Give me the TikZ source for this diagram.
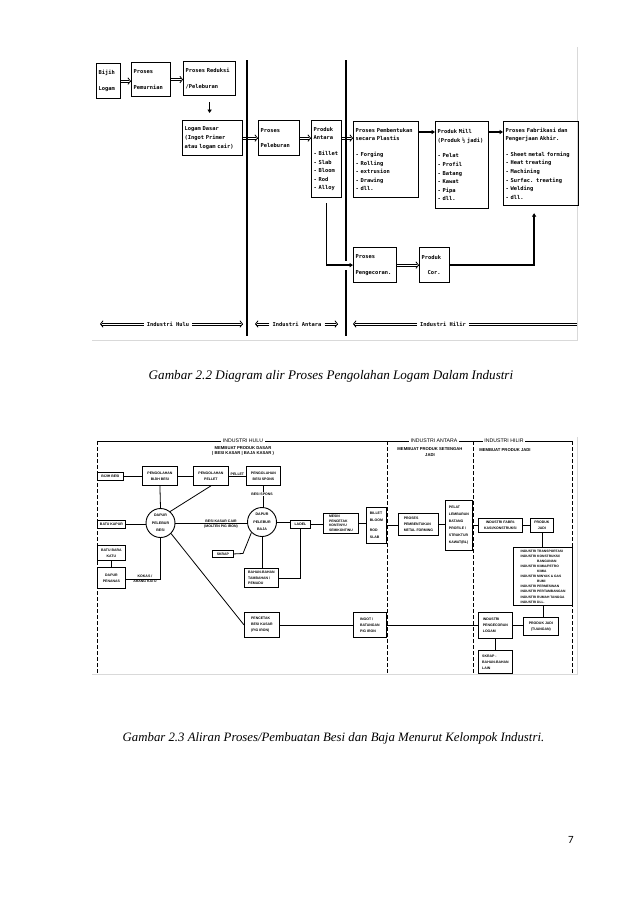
\documentclass[tikz,border=0pt]{standalone}
\usepackage{fontspec}
\setmainfont{Liberation Serif}
\newfontfamily\scanmono{DejaVu Sans Mono}
\newfontfamily\scansans{Liberation Sans}
\newfontfamily\pagefont{Carlito}
\usetikzlibrary{arrows.meta,calc}
% double-line connector with tip at #2
\newcommand\dblarrow[2]{%
  \draw[dbl, transform canvas={yshift=1.1pt}, shorten >=1.6pt] (#1) -- (#2);
  \draw[dbl, transform canvas={yshift=-1.1pt}, shorten >=1.6pt] (#1) -- (#2);
  \draw[dbl, -{Straight Barb[length=2.6pt,width=6.6pt]}] ($(#2)!1.2pt!(#1)$) -- (#2);}
% double line without tip
\newcommand\dblline[2]{%
  \draw[dbl, transform canvas={yshift=1.1pt}] (#1) -- (#2);
  \draw[dbl, transform canvas={yshift=-1.1pt}] (#1) -- (#2);}
\begin{document}
\begin{tikzpicture}[x=1pt,y=-1pt,
 tb/.style={draw, line width=1.2pt, anchor=north west, align=left, inner xsep=2pt, inner ysep=1pt, font=\scanmono\bfseries\fontsize{5.4}{8.6}\selectfont},
 vsep/.style={line width=1.4pt},
 dbl/.style={line width=0.8pt},
 sarr/.style={line width=1.5pt, -{Triangle[length=3.5pt,width=4.2pt]}},
 lab/.style={font=\scanmono\bfseries\fontsize{5.4}{6}\selectfont, inner xsep=3pt, inner ysep=1.5pt},
 bb/.style={draw, line width=0.85pt, anchor=north west, align=center, inner sep=0.6pt, font=\scansans\bfseries\fontsize{3.5}{6}\selectfont},
 bc/.style={draw, circle, line width=0.9pt, inner sep=0pt, minimum size=29pt, align=center, font=\scansans\bfseries\fontsize{3.6}{7.5}\selectfont},
 ln/.style={line width=0.8pt},
 dsh/.style={line width=0.8pt, dash pattern=on 4pt off 2pt},
 bl/.style={font=\scansans\bfseries\fontsize{3.5}{5}\selectfont, inner sep=0.5pt, align=center},
 hd/.style={font=\scansans\fontsize{5.2}{6}\selectfont, inner sep=1.5pt, fill=white},
 sub/.style={font=\scansans\bfseries\fontsize{4.2}{5.5}\selectfont, inner sep=0.5pt, align=center},
 frame/.style={draw=black!15, line width=0.8pt},
 capt/.style={font=\itshape\fontsize{13.1}{15}\selectfont, inner sep=0pt}
]
\useasboundingbox (0,0) rectangle (638,903);

% ================= Figure 2.2 =================
\draw[frame] (92,340) -- (577,340) -- (577,47);

\node[tb, text width=20pt, minimum height=35pt] (bijih) at (96,63) {Bijih\\[7pt]Logam};
\node[tb, text width=35pt, minimum height=34pt] (pemurnian) at (131,62) {Proses\\[7pt]Pemurnian};
\node[tb, text width=48pt, minimum height=34pt] (reduksi) at (183,61) {Proses Reduksi\\[7pt]/Peleburan};
\node[tb, text width=56pt, minimum height=35pt] (logam) at (182,120) {Logam Dasar\\(Ingot Primer\\atau logam cair)};
\node[tb, text width=37pt, minimum height=35pt] (peleburan) at (258,120) {Proses\\[7pt]Peleburan};
\node[tb, text width=26pt, minimum height=77pt] (antara) at (311,120) {Produk\\Antara\\[7pt]- Billet\\- Slab\\- Bloom\\- Rod\\- Alloy};
\node[tb, text width=61pt, minimum height=76pt] (plastis) at (353,121) {Proses Pembentukan\\secara Plastis\\[7pt]- Forging\\- Rolling\\- extrusion\\- Drawing\\- dll.};
\node[tb, text width=49pt, minimum height=87pt] (mill) at (435,121) {Produk Mill\\(Produk ½ jadi)\\[7pt]- Pelat\\- Profil\\- Batang\\- Kawat\\- Pipa\\- dll.};
\node[tb, text width=71pt, minimum height=84pt] (fab) at (503,121) {Proses Fabrikasi dan\\Pengerjaan Akhir.\\[7pt]- Sheet metal forming\\- Heat treating\\- Machining\\- Surfac. treating\\- Welding\\- dll.};
\node[tb, text width=39pt, minimum height=35pt] (pengecoran) at (353,247) {Proses\\[7pt]Pengecoran.};
\node[tb, text width=26pt, minimum height=35pt] (cor) at (419,247) {Produk\\[7pt]\hspace*{6pt}Cor.};

% separators
\draw[vsep] (247,60) -- (247,336);
\draw[vsep] (346,60) -- (346,261);
\draw[vsep] (346,270) -- (346,336);

% arrows
\coordinate (b1) at (bijih.east -| pemurnian.west);
\dblarrow{bijih.east}{b1}
\coordinate (b2) at (pemurnian.east -| reduksi.west);
\dblarrow{pemurnian.east}{b2}
\draw[sarr, shorten <=6pt, shorten >=7pt] (reduksi.south) -- (reduksi.south |- logam.north);
\coordinate (b3) at (logam.east -| peleburan.west);
\dblarrow{logam.east}{b3}
\coordinate (b4) at (peleburan.east -| antara.west);
\dblarrow{peleburan.east}{b4}
\coordinate (b5s) at (peleburan.east -| antara.east);
\coordinate (b5) at (peleburan.east -| plastis.west);
\dblarrow{b5s}{b5}
\coordinate (p1) at ([yshift=-11pt]plastis.north east);
\coordinate (p2) at ([yshift=-11pt]mill.north east);
\draw[sarr] (p1) -- (p1 -| mill.west);
\draw[sarr] (p2) -- (p2 -| fab.west);
\draw[sarr, shorten <=5pt] (antara.south) |- (pengecoran.west);
\coordinate (b6) at (pengecoran.east -| cor.west);
\dblarrow{pengecoran.east}{b6}
\coordinate (fabin) at ([xshift=-7pt]fab.south);
\draw[sarr, shorten >=7pt] (cor.east) -| (fabin);

% bottom labels
\node[lab] (lhulu) at (168,324) {Industri Hulu};
\node[lab] (lantara) at (297,324) {Industri Antara};
\node[lab] (lhilir) at (443,324) {Industri Hilir};
\coordinate (h1) at (100,324); \coordinate (h2) at (243,324);
\coordinate (a1) at (255,324); \coordinate (a2) at (338,324);
\coordinate (i1) at (353,324); \coordinate (i2) at (577,324);
\dblarrow{lhulu.west}{h1}
\dblarrow{lhulu.east}{h2}
\dblarrow{lantara.west}{a1}
\dblarrow{lantara.east}{a2}
\dblarrow{lhilir.west}{i1}
\dblline{lhilir.east}{i2}

\node[capt] (cap1) at (331,376) {Gambar 2.2 Diagram alir Proses Pengolahan Logam Dalam Industri};

% ================= Figure 2.3 =================
\draw[frame] (92,674) -- (577,674) -- (577,437);

% header
\node[hd] (hhulu) at (243,441) {INDUSTRI HULU};
\node[hd] (hantara) at (434,441) {INDUSTRI ANTARA};
\node[hd] (hhilir) at (504,441) {INDUSTRI HILIR};
\node[sub] (shulu) at (243,451) {MEMBUAT PRODUK DASAR\\( BESI KASAR | BAJA KASAR )};
\node[sub] (santara) at (430,452) {MEMBUAT PRODUK SETENGAH\\JADI};
\node[sub] (shilir) at (505,450) {MEMBUAT PRODUK JADI};
\coordinate (tl) at (97,441); \coordinate (tr) at (572,441);
\draw[ln] (tl) -- (hhulu.west);
\draw[ln] (hhulu.east) -- (hantara.west);
\draw[ln] (hantara.east) -- (hhilir.west);
\draw[ln] (hhilir.east) -- (tr);
\draw[dsh] (97,441) -- (97,673);
\draw[dsh] (387,441) -- (387,673);
\draw[dsh] (473,441) -- (473,673);
\draw[dsh] (572,441) -- (572,673);

% nodes
\node[bb, minimum width=26pt, minimum height=8pt] (bbesi) at (97,472) {BIJIH BESI};
\node[bb, minimum width=35pt, minimum height=19pt] (pbb) at (142,466) {PENGOLAHAN\\BIJIH BESI};
\node[bb, minimum width=35pt, minimum height=19pt] (ppel) at (193,466) {PENGOLAHAN\\PELLET};
\node[bb, minimum width=34pt, minimum height=19pt] (pspo) at (246,466) {PENGOLAHAN\\BESI SPONS};
\node[bc] (cbesi) at (160.5,523) {DAPUR\\PELEBUR\\BESI};
\node[bc] (cbaja) at (262,522) {DAPUR\\PELEBUR\\BAJA};
\node[bb, minimum width=28pt, minimum height=8pt] (kapur) at (97,520) {BATU KAPUR};
\node[bb, minimum width=28pt, minimum height=15pt] (bara) at (97,545) {BATU BARA\\KATU};
\node[bb, minimum width=28pt, minimum height=21pt] (penanas) at (97,567) {DAPUR\\PENANAS};
\node[bb, minimum width=21pt, minimum height=7pt] (skrap) at (212,550) {SKRAP};
\node[bb, minimum width=34pt, minimum height=19pt, align=left, font=\scansans\bfseries\fontsize{3.5}{5.2}\selectfont] (bahan) at (244,568) {BAHAN-BAHAN\\TAMBAHAN /\\PEMADU};
\node[bb, minimum width=20pt, minimum height=8pt] (ladel) at (290,520) {LADEL};
\node[bb, minimum width=35pt, minimum height=20pt, align=left, font=\scansans\bfseries\fontsize{3.4}{4.6}\selectfont] (mesin) at (323,513) {MESIN\\PENCETAK\\KONTINYU\\SEMIKONTINU};
\node[bb, minimum width=20pt, minimum height=36pt, align=left, font=\scansans\bfseries\fontsize{3.5}{7.5}\selectfont] (billet) at (366,507) {BILLET\\BLOOM\\[2pt]ROD\\SLAB};
\node[bb, minimum width=40pt, minimum height=22pt, align=left] (proses) at (398,513) {PROSES\\PEMBENTUKAN\\METAL FORMING};
\node[bb, minimum width=27pt, minimum height=50pt, align=left, font=\scansans\bfseries\fontsize{3.5}{7}\selectfont] (pelat) at (445,500) {PELAT\\LEMBARAN\\BATANG\\PROFILE /\\STRUKTUR\\KAWAT(BL)};
\node[bb, minimum width=44pt, minimum height=14pt] (fabri) at (478,518) {INDUSTRI FABRI-\\KASI/KONSTRUKSI};
\node[bb, minimum width=23pt, minimum height=14pt] (pjadi) at (530,518) {PRODUK\\JADI};
\node[bb, minimum width=59pt, minimum height=58pt, align=left, line width=1.1pt, font=\scansans\bfseries\fontsize{3.3}{5.1}\selectfont] (list) at (513,547) {INDUSTRI TRANSPORTASI\\INDUSTRI KONSTRUKSI/\\\hphantom{INDUSTRI }BANGUNAN\\INDUSTRI KIMIA/PETRO\\\hphantom{INDUSTRI }KIMIA\\INDUSTRI MINYAK \& GAS\\\hphantom{INDUSTRI }BUMI\\INDUSTRI PERMESINAN\\INDUSTRI PERTAMBANGAN\\INDUSTRI RUMAH TANGGA\\INDUSTRI DLL.};
\node[bb, minimum width=35pt, minimum height=18pt] (tuangan) at (523,617) {PRODUK JADI\\(TUANGAN)};
\node[bb, minimum width=34pt, minimum height=26pt, align=left] (pcor) at (478,612) {INDUSTRI\\PENGECORAN\\LOGAM};
\node[bb, minimum width=33pt, minimum height=25pt, align=left] (ingot) at (353,612) {INGOT /\\BATANGAN\\PIG IRON};
\node[bb, minimum width=35pt, minimum height=25pt, align=left] (cetak) at (244,612) {PENCETAK\\BESI KASAR\\(PIG IRON)};
\node[bb, minimum width=34pt, minimum height=23pt, align=left] (skrap2) at (478,650) {SKRAP -\\BAHAN-BAHAN\\LAIN};

% connectors
\draw[ln] (bbesi.east) -- (bbesi.east -| pbb.west);
\draw[ln] (pbb.east) -- (ppel.west);
\draw[ln] (ppel.east) -- (pspo.west);
\node[bl, anchor=south] (lpellet) at ($(ppel.east)!0.5!(pspo.west)$) {PELLET};
\draw[ln] (pbb.south) -- (cbesi.north);
\draw[ln] (ppel.south) -- (cbesi.50);
\draw[ln] (pspo.south) -- (pspo.south |- cbaja.north);
\node[bl, fill=white] (lspons) at (262,494) {BESI SPONS};
\draw[ln] (kapur.east) -- (kapur.east -| cbesi.west);
\draw[ln] (cbesi.east) -- (cbesi.east -| cbaja.west);
\node[bl, anchor=south] (lcair) at (221,523) {BESI KASAR CAIR};
\node[bl, anchor=north] (lmolten) at (221,524.5) {(MOLTEN PIG IRON)};
\draw[ln] (bara.south) -- (penanas.north);
\coordinate (kk) at (160.5,579);
\draw[ln] (penanas.east |- kk) -- (kk) -- (cbesi.south);
\node[bl, anchor=south] (lkokas) at (145,578.5) {KOKAS /};
\node[bl, anchor=north] (larang) at (145,579.5) {ARANG KATU};
\draw[ln] (cbesi.-45) -- (cetak.west);
\coordinate (sk) at (243,553.5);
\draw[ln] (skrap.east) -- (sk) -- (cbaja.225);
\draw[ln] (cbaja.south) -- (cbaja.south |- bahan.north);
\draw[ln] (cbaja.east) -- (cbaja.east -| ladel.west);
\draw[ln] (ladel.south) |- (bahan.east);
\draw[ln] (ladel.east) -- (ladel.east -| mesin.west);
\draw[ln] (mesin.east) -- (mesin.east -| billet.west);
\draw[ln] (billet.east) -- (billet.east -| proses.west);
\draw[ln] (proses.east) -- (proses.east -| pelat.west);
\draw[ln] (pelat.east) -- (pelat.east -| fabri.west);
\draw[ln] (fabri.east) -- (fabri.east -| pjadi.west);
\draw[ln] (pjadi.south) -- (pjadi.south |- list.north);
\draw[ln] (list.south) -- (list.south |- tuangan.north);
\draw[ln] (cetak.east) -- (cetak.east -| ingot.west);
\draw[ln] (ingot.east) -- (ingot.east -| pcor.west);
\draw[ln] (pcor.east) -- (pcor.east -| tuangan.west);
\draw[ln] (pcor.south) -- (pcor.south |- skrap2.north);

\node[capt, font=\itshape\fontsize{12.8}{15}\selectfont] (cap2) at (333.5,738) {Gambar 2.3 Aliran Proses/Pembuatan Besi dan Baja Menurut Kelompok Industri.};

\node[font=\pagefont\fontsize{11}{13}\selectfont, inner sep=0pt] (pnum) at (571,840) {7};
\end{tikzpicture}
\end{document}
